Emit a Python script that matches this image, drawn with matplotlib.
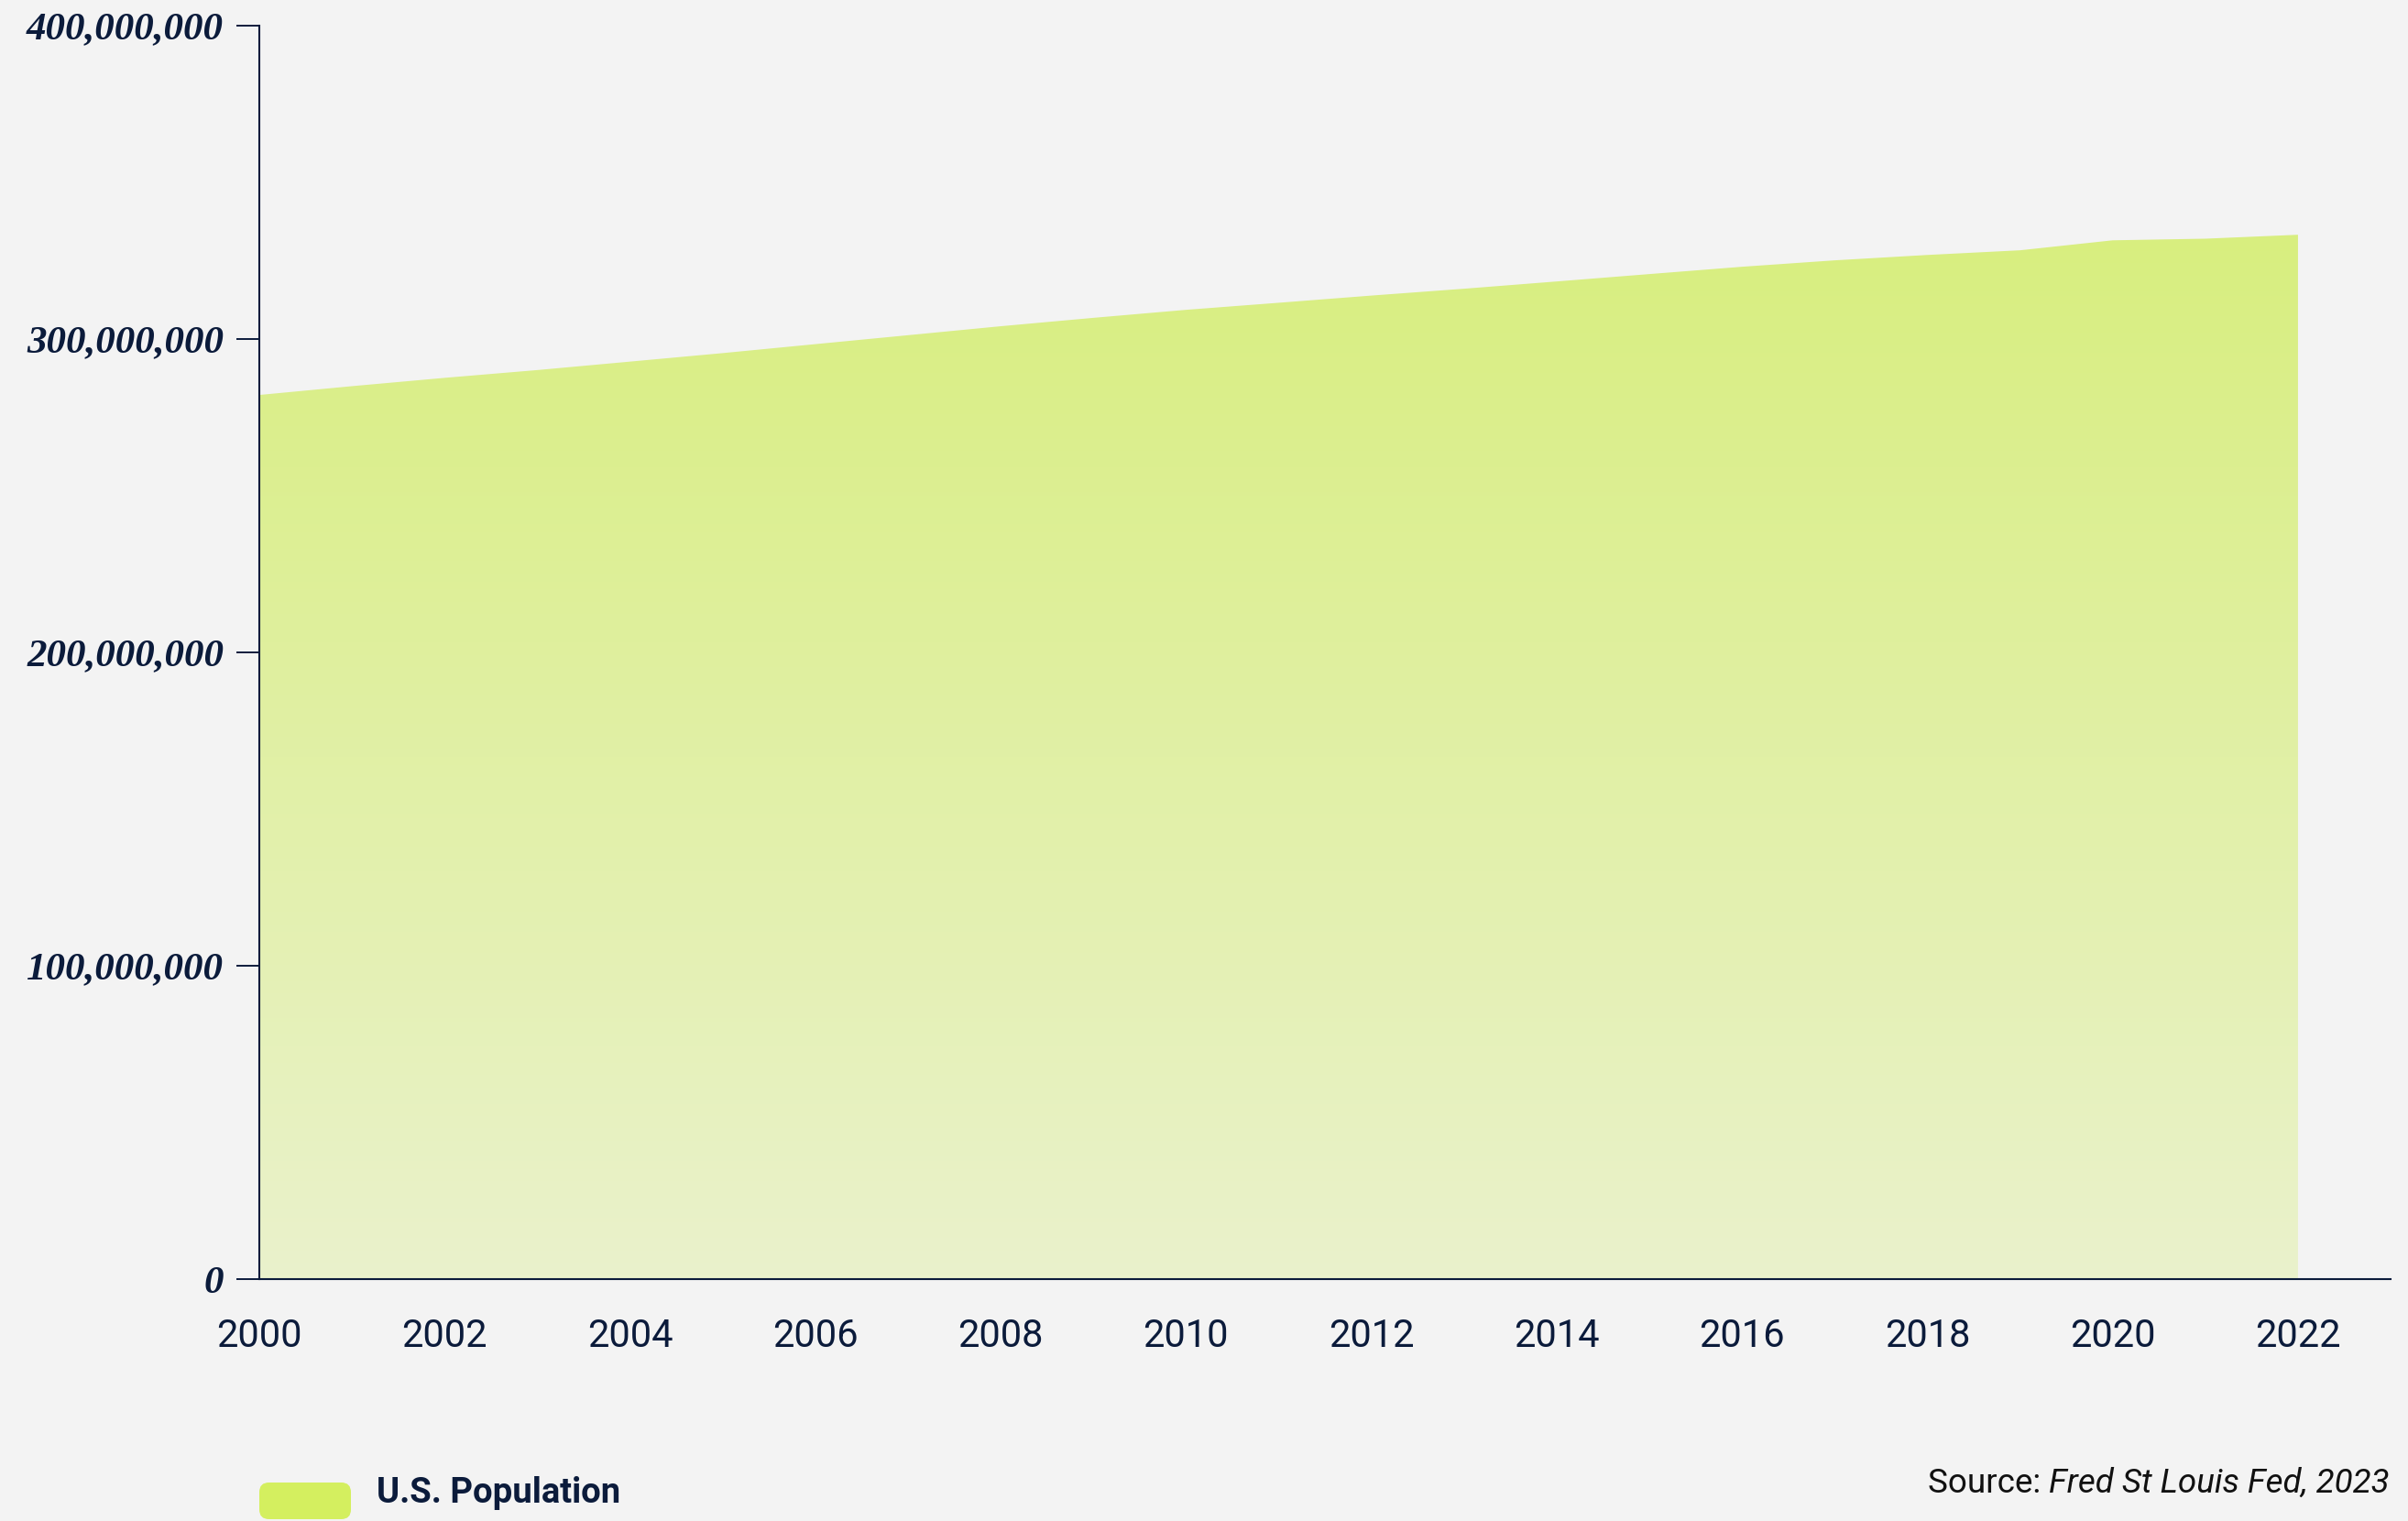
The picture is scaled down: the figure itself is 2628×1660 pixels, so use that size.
import numpy as np
import matplotlib
matplotlib.use("Agg")
import matplotlib.pyplot as plt
from matplotlib.colors import LinearSegmentedColormap
from matplotlib.patches import FancyBboxPatch
from matplotlib.ticker import FuncFormatter

# U.S. population, FRED (annual)
years = [2000, 2001, 2002, 2003, 2004, 2005, 2006, 2007, 2008, 2009, 2010, 2011,
         2012, 2013, 2014, 2015, 2016, 2017, 2018, 2019, 2020, 2021, 2022]
population = [282162411, 284968955, 287625193, 290107933, 292805298, 295516599,
              298379912, 301231207, 304093966, 306771529, 309327143, 311583481,
              313877662, 316059947, 318386329, 320738994, 323071755, 325122128,
              326838199, 328329953, 331511512, 332031554, 333287557]
y_ticks = [0, 100000000, 200000000, 300000000, 400000000]
x_ticks = list(range(2000, 2023, 2))
series_label = "U.S. Population"
source_prefix = "Source: "
source_name = "Fred St Louis Fed, 2023"

bg = "#f3f3f3"
navy = "#0b1b3b"
grad_top = "#d8ee7f"
grad_bottom = "#eaf2cc"
legend_color = "#d4ef5f"

fig = plt.figure(figsize=(26.28, 16.6), dpi=100, facecolor=bg)
ax = fig.add_axes([0.1077, 0.159, 0.8851, 0.8241])
ax.set_facecolor(bg)

# gradient filled area, clipped to the population polygon
poly = ax.fill_between(years, population, 0, facecolor="none", lw=0)
grad = np.linspace(0, 1, 256).reshape(-1, 1)
cmap = LinearSegmentedColormap.from_list("pop", [grad_bottom, grad_top])
im = ax.imshow(grad, extent=[years[0], years[-1], 0, max(population)],
               origin="lower", aspect="auto", cmap=cmap, zorder=1)
im.set_clip_path(poly.get_paths()[0], transform=ax.transData)

ax.set_xlim(2000, 2023)
ax.set_ylim(0, 400000000)

for s in ["top", "right"]:
    ax.spines[s].set_visible(False)
for s in ["left", "bottom"]:
    ax.spines[s].set_color(navy)
    ax.spines[s].set_linewidth(1.5)
    ax.spines[s].set_zorder(3)

ax.set_yticks(y_ticks)
ax.yaxis.set_major_formatter(FuncFormatter(lambda v, p: f"{int(v):,}"))
ax.tick_params(axis="y", length=18, width=1.4, color=navy, pad=10,
               labelcolor=navy)
for lab in ax.get_yticklabels():
    lab.set_fontfamily("Liberation Serif")
    lab.set_fontstyle("italic")
    lab.set_fontweight("bold")
    lab.set_fontsize(31)

ax.set_xticks(x_ticks)
ax.tick_params(axis="x", length=0, pad=30, labelcolor=navy)
for lab in ax.get_xticklabels():
    lab.set_fontfamily("Roboto")
    lab.set_fontsize(30)

# legend
fig.patches.append(FancyBboxPatch((283 / 2628, 2 / 1660), 100 / 2628, 40 / 1660,
                                  boxstyle="round,pad=0,rounding_size=0.004",
                                  transform=fig.transFigure, facecolor=legend_color,
                                  edgecolor="none", mutation_aspect=2628 / 1660))
fig.text(411 / 2628, 20 / 1660, series_label, fontsize=27.5, fontweight="bold",
         family="Roboto", color=navy, va="baseline", ha="left")

# source note
t = fig.text(0.9924, 31 / 1660, source_name, fontsize=26.5, style="italic",
             family="Roboto", color="#111111", va="baseline", ha="right")
fig.canvas.draw()
bb = t.get_window_extent().transformed(fig.transFigure.inverted())
fig.text(bb.x0, 31 / 1660, source_prefix, fontsize=26.5, family="Roboto",
         color="#111111", va="baseline", ha="right")

fig.savefig("out.png", dpi=100, facecolor=bg)
